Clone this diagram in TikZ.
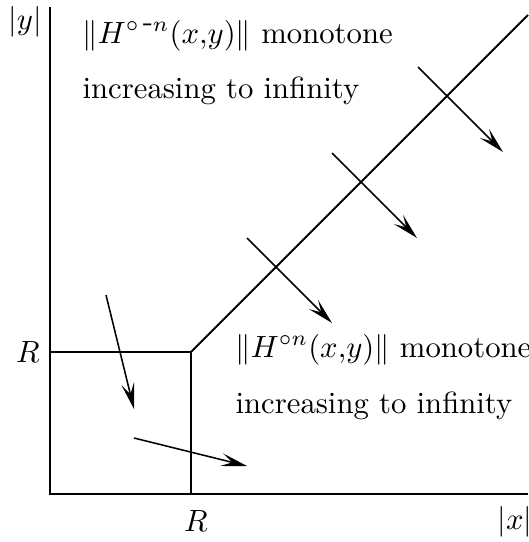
\documentclass[tikz,border=0pt]{standalone}
\usetikzlibrary{arrows.meta,calc}
\begin{document}
\begin{tikzpicture}[x=0.3257pt,y=-0.3257pt,
  axis/.style={line width=0.65pt},
  flow/.style={line width=0.5pt,-{Stealth[length=8.5pt,width=4.2pt,inset=3.6pt]}},
  lab/.style={inner sep=0pt},
  txt/.style={inner sep=0pt,anchor=base west}]
\useasboundingbox (0,0) rectangle (528,542);
% axes and region boundary
\coordinate (Ytop) at (50,7);
\coordinate (O) at (50,494);
\coordinate (Xend) at (528,494);
\coordinate (Ry) at (50,352);
\coordinate (RR) at (191,352);
\coordinate (Rx) at (191,494);
\coordinate (D) at (528,15);
\draw[axis] (Ytop) -- (O) -- (Xend);
\draw[axis] (Ry) -- (RR) -- (Rx);
\draw[axis] (RR) -- (D);
% arrows crossing the diagonal
\coordinate (c1) at (447,96);
\coordinate (c2) at (361,182);
\coordinate (c3) at (276,267);
\foreach \c in {c1,c2,c3}{
  \draw[flow] ($(\c)+(-29,-29)$) -- ($(\c)+(56,56)$);
}
% arrows in the box
\coordinate (a1s) at (106,295);
\coordinate (a1e) at (134,409);
\coordinate (a2s) at (134,438);
\coordinate (a2e) at (247,466);
\draw[flow] (a1s) -- (a1e);
\draw[flow] (a2s) -- (a2e);
% labels
\node[lab] (ylab) at (25,22) {$|y|$};
\node[lab] (xlab) at (515,522) {$|x|$};
\node[lab] (Rleft) at (28,352) {$R$};
\node[lab] (Rbot) at (196,521) {$R$};
\node[txt] (t1) at (82,43) {$\|H^{\circ\,\mbox{-}n}(x{,}y)\|$ monotone};
\node[txt] (t2) at (82,98) {increasing to infinity};
\node[txt] (t3) at (235,357) {$\|H^{\circ n}(x{,}y)\|$ monotone};
\node[txt] (t4) at (235,413) {increasing to infinity};
\end{tikzpicture}
\end{document}
